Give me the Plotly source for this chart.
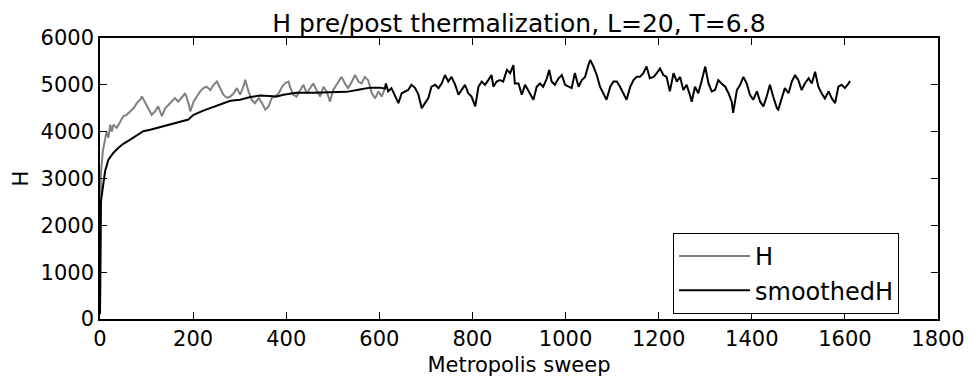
import plotly.graph_objects as go

# Raw H before thermalization (gray)
sweep_h = [0, 2, 6, 11, 14, 18, 22, 25, 29, 36, 43, 50, 57, 65, 72, 79, 86, 90, 97, 104,
           111, 118, 125, 133, 140, 147, 154, 161, 168, 176, 183, 190, 194, 201, 208, 215,
           222, 229, 237, 244, 251, 258, 265, 273, 280, 287, 294, 301, 308, 312, 319, 326,
           333, 341, 348, 355, 362, 369, 376, 384, 391, 398, 405, 408, 415, 422, 430, 437,
           444, 451, 458, 465, 473, 480, 487, 494, 501, 508, 515, 519, 526, 533, 541, 548,
           555, 562, 569, 576, 584, 591, 598, 605, 612]
h_vals = [200, 3100, 3580, 3800, 4000, 3870, 4150, 4000, 4150, 4080, 4220, 4330, 4360, 4430,
          4500, 4610, 4680, 4750, 4610, 4470, 4360, 4430, 4540, 4330, 4500, 4570, 4640, 4720,
          4640, 4750, 4820, 4610, 4430, 4640, 4750, 4860, 4930, 4960, 4890, 5000, 5070, 4930,
          4790, 4720, 4750, 4820, 4930, 4790, 4960, 5110, 4860, 4680, 4610, 4720, 4610, 4470,
          4540, 4720, 4750, 4820, 4960, 5040, 5070, 4960, 4790, 4750, 4890, 5000, 4820, 4930,
          5030, 4890, 4750, 4960, 4860, 4640, 4890, 5000, 5100, 5170, 5030, 4930, 5070, 5210,
          5070, 5030, 5170, 5100, 4820, 4710, 4860, 4750, 4930]

# Smoothed H (black): running average before thermalization, raw values after
sweep_s = [0, 1, 2, 6, 11, 18, 29, 39, 50, 65, 79, 93, 108, 129, 151, 172, 190, 194, 201,
           222, 244, 265, 280, 301, 323, 344, 366, 380, 394, 409, 422, 458, 494, 530, 558,
           580, 601, 612,
           614, 619, 626, 634, 641, 648, 655, 662, 669, 677, 684, 691, 698, 705, 712, 720,
           727, 734, 741, 748, 755, 763, 770, 777, 784, 791, 798, 806, 813, 820, 827, 834,
           841, 845, 852, 859, 866, 874, 881, 888, 891, 899, 906, 913, 920, 927, 931, 938,
           945, 952, 960, 965, 970, 977, 985, 992, 999, 1006, 1013, 1020, 1028, 1035, 1042,
           1049, 1053, 1060, 1067, 1074, 1081, 1088, 1096, 1103, 1110, 1117, 1124, 1131,
           1139, 1146, 1153, 1160, 1167, 1174, 1181, 1189, 1196, 1203, 1210, 1217, 1224,
           1232, 1239, 1246, 1253, 1260, 1267, 1271, 1278, 1285, 1292, 1300, 1307, 1314,
           1321, 1328, 1335, 1343, 1350, 1357, 1360, 1368, 1375, 1382, 1389, 1396, 1403,
           1411, 1418, 1425, 1432, 1439, 1446, 1454, 1457, 1464, 1471, 1479, 1486, 1493,
           1500, 1507, 1514, 1522, 1529, 1536, 1543, 1550, 1557, 1565, 1572, 1579, 1586,
           1593, 1600, 1608, 1611]
s_vals = [100, 2450, 2500, 2800, 3160, 3400, 3550, 3650, 3740, 3830, 3920, 4010, 4040, 4100,
          4150, 4210, 4260, 4300, 4360, 4450, 4530, 4620, 4660, 4680, 4740, 4770, 4750, 4750,
          4790, 4810, 4830, 4830, 4840, 4850, 4900, 4940, 4940, 4920,
          5030, 4860, 4930, 4750, 4610, 4820, 4860, 4890, 5000, 4930, 4790, 4500, 4610, 4710,
          4960, 5000, 4930, 5030, 5210, 5070, 5170, 5000, 4790, 4890, 5000, 4820, 4750, 4540,
          4960, 5070, 5000, 5100, 5210, 4960, 5070, 5100, 5070, 5320, 5250, 5420, 5030, 5030,
          4790, 5000, 4890, 4750, 4680, 4960, 5030, 4960, 5140, 5320, 5070, 5000, 5140, 5210,
          5000, 4960, 4930, 5250, 4960, 5100, 5170, 5420, 5530, 5390, 5210, 4960, 4820, 4680,
          4960, 5070, 5070, 4960, 4820, 4680, 4960, 5100, 5170, 5170, 5250, 5390, 5140, 5170,
          5250, 5350, 5210, 5170, 4860, 5250, 5070, 5170, 4890, 5000, 4790, 4640, 4960, 4820,
          5070, 5390, 5030, 4860, 4890, 5100, 5030, 4960, 4820, 4640, 4400, 4890, 5000, 5170,
          5030, 4790, 4680, 4860, 4640, 4540, 4750, 5000, 4750, 4500, 4470, 4710, 4930, 4820,
          5070, 5210, 5100, 4890, 5030, 5140, 5030, 5280, 4960, 4820, 4710, 4860, 4710, 4610,
          4960, 5000, 4930, 5030, 5080]

title_text = "H pre/post thermalization, L=20, T=6.8"
x_label = "Metropolis sweep"
y_label = "H"
x_ticks = [0, 200, 400, 600, 800, 1000, 1200, 1400, 1600, 1800]
y_ticks = [0, 1000, 2000, 3000, 4000, 5000, 6000]

FONT = "DejaVu Sans"

fig = go.Figure()
fig.add_trace(go.Scatter(x=sweep_h, y=h_vals, mode="lines", name="H",
                         line=dict(color="#808080", width=2)))
fig.add_trace(go.Scatter(x=sweep_s, y=s_vals, mode="lines", name="smoothedH",
                         line=dict(color="#000000", width=2)))

axis_common = dict(showline=True, linecolor="black", linewidth=1.6, mirror="ticks",
                   ticks="inside", ticklen=7, tickwidth=1, tickcolor="black",
                   showgrid=False, zeroline=False, automargin=False,
                   tickfont=dict(family=FONT, size=21, color="black"))

fig.update_xaxes(range=[0, 1800], tickvals=x_ticks, ticktext=[str(v) for v in x_ticks],
                 title=dict(text=x_label, font=dict(family=FONT, size=21, color="black"),
                            standoff=7),
                 **axis_common)
fig.update_yaxes(range=[0, 6000], tickvals=y_ticks, ticktext=[str(v) for v in y_ticks],
                 title=dict(text=y_label, font=dict(family=FONT, size=21, color="black"),
                            standoff=6),
                 **axis_common)

fig.update_layout(
    width=972, height=378,
    margin=dict(l=100, r=34, t=38, b=59, autoexpand=False),
    paper_bgcolor="white", plot_bgcolor="white",
    title=dict(text=title_text, font=dict(family=FONT, size=25, color="black"),
               x=0.5339, xanchor="center", y=1, yref="paper", yanchor="bottom",
               pad=dict(b=6)),
    legend=dict(x=0.6838, xanchor="left", y=0.018, yanchor="bottom",
                bgcolor="white", bordercolor="black", borderwidth=1,
                font=dict(family=FONT, size=24, color="black"),
                tracegroupgap=0, itemwidth=71),
    showlegend=True,
)

fig.write_html("out.html")
